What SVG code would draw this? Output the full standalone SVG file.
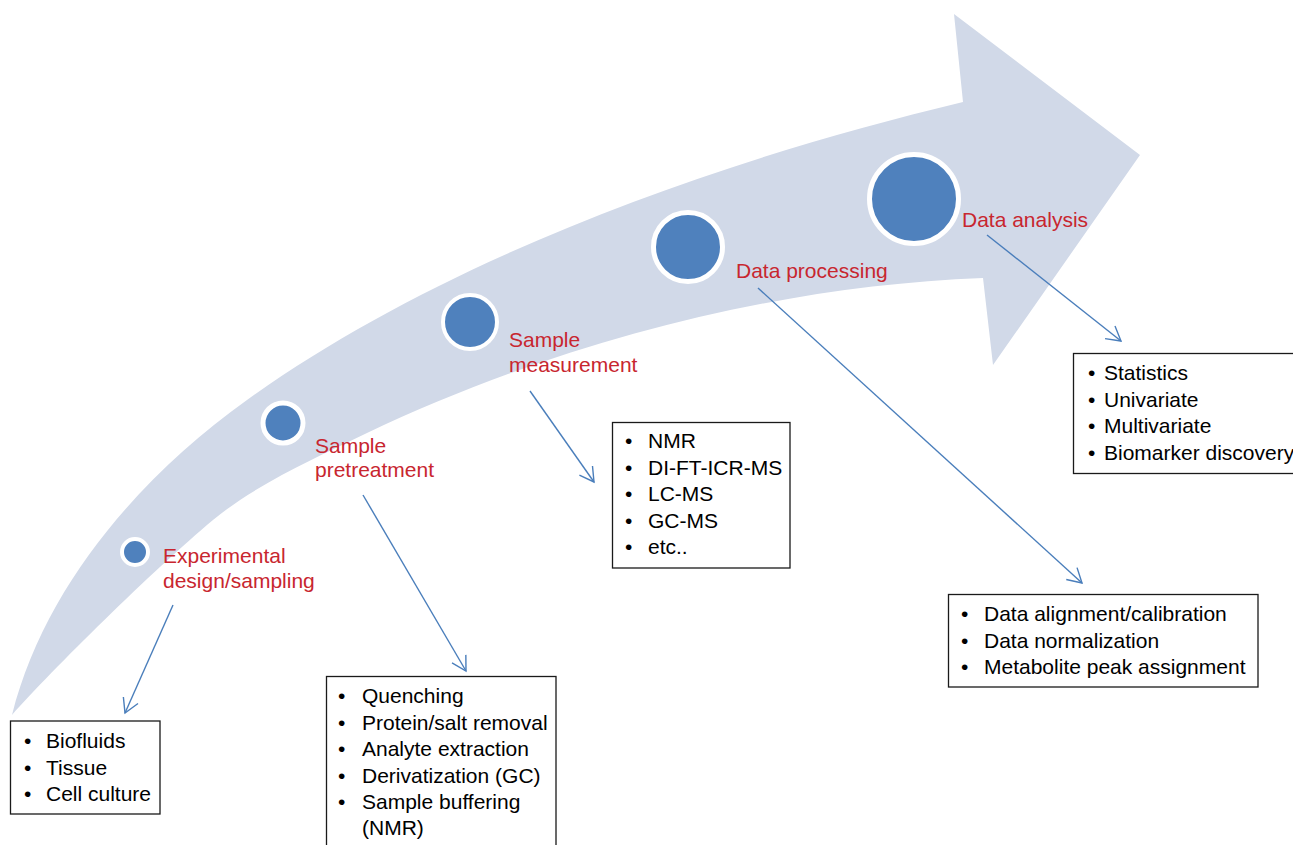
<svg xmlns="http://www.w3.org/2000/svg" width="1293" height="845" viewBox="0 0 1293 845">
  <style>
    .band { fill: #d1d9e8; }
    .dot { fill: #4f81bd; stroke: #ffffff; }
    .label { font-family: "Liberation Sans", Arial, sans-serif; font-size: 21px; fill: #c8262f; }
    .item { font-family: "Liberation Sans", Arial, sans-serif; font-size: 21px; fill: #000000; }
    .box { fill: #ffffff; stroke: #1a1a1a; stroke-width: 1.3; }
    .link { fill: none; stroke: #4a7ebb; stroke-width: 1.4; marker-end: url(#openHead); }
  </style>
  <defs>
    <marker id="openHead" markerUnits="userSpaceOnUse" markerWidth="18" markerHeight="18" viewBox="0 0 18 18" refX="16" refY="9" orient="auto">
      <path d="M2,1 L16,9 L2,17" fill="none" stroke="#4a7ebb" stroke-width="1.4"/>
    </marker>
  </defs>

  <rect width="1293" height="845" fill="#ffffff"/>

  <!-- curved progress arrow -->
  <g id="progress-arrow">
    <path class="band" d="M12,715 C45,585 141,476 247,400 C435,265 700,165 963,102 L954,14 L1140,155 L993,365 L983,278 C773,286 557,343 367,433 C317,457 255,485 213,520 C153,570 52,670 12,715 Z"/>
  </g>

  <!-- stage markers -->
  <g id="stage-design">
    <circle class="dot" cx="135" cy="552" r="13" stroke-width="4"/>
    <text class="label" x="163" y="563">Experimental</text>
    <text class="label" x="163" y="588">design/sampling</text>
  </g>
  <g id="stage-pretreatment">
    <circle class="dot" cx="283" cy="423" r="20" stroke-width="5"/>
    <text class="label" x="315" y="453">Sample</text>
    <text class="label" x="315" y="477">pretreatment</text>
  </g>
  <g id="stage-measurement">
    <circle class="dot" cx="470" cy="322" r="27" stroke-width="4"/>
    <text class="label" x="509" y="347">Sample</text>
    <text class="label" x="509" y="372">measurement</text>
  </g>
  <g id="stage-processing">
    <circle class="dot" cx="688" cy="247" r="34.5" stroke-width="5"/>
    <text class="label" x="736" y="278">Data processing</text>
  </g>
  <g id="stage-analysis">
    <circle class="dot" cx="914" cy="199" r="44.5" stroke-width="5"/>
    <text class="label" x="962" y="227">Data analysis</text>
  </g>

  <!-- connectors -->
  <g id="connectors">
    <line class="link" x1="173" y1="605" x2="125" y2="713"/>
    <line class="link" x1="363" y1="495" x2="466" y2="671"/>
    <line class="link" x1="530" y1="391" x2="594" y2="482"/>
    <line class="link" x1="758" y1="288" x2="1082" y2="583"/>
    <line class="link" x1="987" y1="235" x2="1121" y2="341"/>
  </g>

  <!-- detail boxes -->
  <g id="box-sampling">
    <rect class="box" x="10.5" y="721" width="149.5" height="93"/>
    <text class="item" x="24" y="748">•</text>
    <text class="item" x="46" y="748">Biofluids</text>
    <text class="item" x="24" y="775">•</text>
    <text class="item" x="46" y="775">Tissue</text>
    <text class="item" x="24" y="801">•</text>
    <text class="item" x="46" y="801">Cell culture</text>
  </g>

  <g id="box-pretreatment">
    <rect class="box" x="326.5" y="676.5" width="229.5" height="180"/>
    <text class="item" x="338" y="703">•</text>
    <text class="item" x="362" y="703">Quenching</text>
    <text class="item" x="338" y="729.5">•</text>
    <text class="item" x="362" y="729.5">Protein/salt removal</text>
    <text class="item" x="338" y="756">•</text>
    <text class="item" x="362" y="756">Analyte extraction</text>
    <text class="item" x="338" y="782.5">•</text>
    <text class="item" x="362" y="782.5">Derivatization (GC)</text>
    <text class="item" x="338" y="809">•</text>
    <text class="item" x="362" y="809">Sample buffering</text>
    <text class="item" x="362" y="835">(NMR)</text>
  </g>

  <g id="box-measurement">
    <rect class="box" x="612.5" y="422.5" width="177.5" height="145.5"/>
    <text class="item" x="625" y="448">•</text>
    <text class="item" x="648" y="448">NMR</text>
    <text class="item" x="625" y="474.5">•</text>
    <text class="item" x="648" y="474.5">DI-FT-ICR-MS</text>
    <text class="item" x="625" y="501">•</text>
    <text class="item" x="648" y="501">LC-MS</text>
    <text class="item" x="625" y="527.5">•</text>
    <text class="item" x="648" y="527.5">GC-MS</text>
    <text class="item" x="625" y="554">•</text>
    <text class="item" x="648" y="554">etc..</text>
  </g>

  <g id="box-processing">
    <rect class="box" x="948.5" y="594.5" width="309.5" height="92.5"/>
    <text class="item" x="961" y="621">•</text>
    <text class="item" x="984" y="621">Data alignment/calibration</text>
    <text class="item" x="961" y="647.5">•</text>
    <text class="item" x="984" y="647.5">Data normalization</text>
    <text class="item" x="961" y="674">•</text>
    <text class="item" x="984" y="674">Metabolite peak assignment</text>
  </g>

  <g id="box-analysis">
    <rect class="box" x="1073.5" y="353.5" width="240" height="120"/>
    <text class="item" x="1088" y="380">•</text>
    <text class="item" x="1104" y="380">Statistics</text>
    <text class="item" x="1088" y="407">•</text>
    <text class="item" x="1104" y="407">Univariate</text>
    <text class="item" x="1088" y="433">•</text>
    <text class="item" x="1104" y="433">Multivariate</text>
    <text class="item" x="1088" y="460">•</text>
    <text class="item" x="1104" y="460">Biomarker discovery</text>
  </g>
</svg>
